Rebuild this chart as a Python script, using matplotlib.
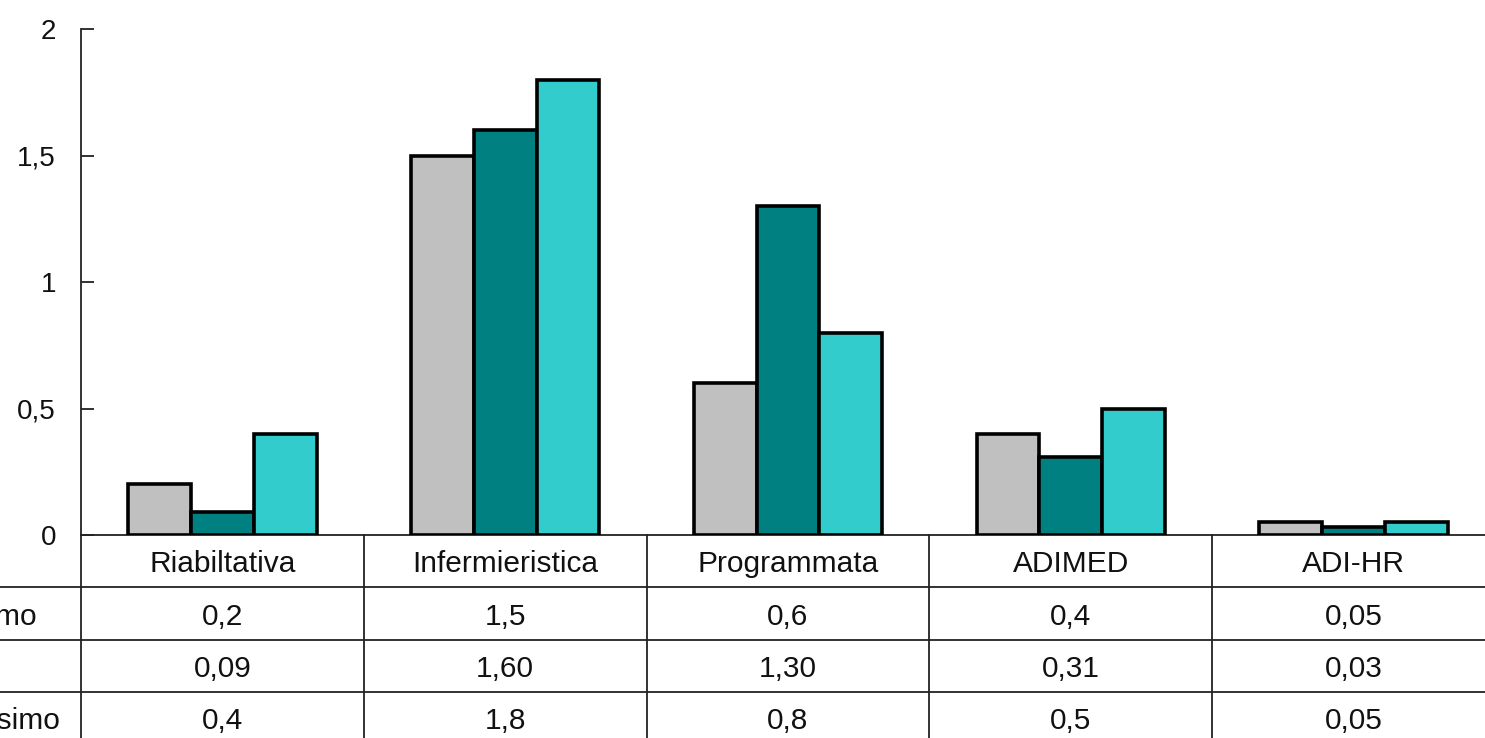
import matplotlib
matplotlib.use("Agg")
import matplotlib.pyplot as plt
import numpy as np

plt.rcParams["font.family"] = ["Liberation Sans", "DejaVu Sans"]

categories = ["Riabiltativa", "Infermieristica", "Programmata", "ADIMED", "ADI-HR"]
row_labels = ["Minimo", "", "Massimo"]
minimo = [0.2, 1.5, 0.6, 0.4, 0.05]
regione = [0.09, 1.60, 1.30, 0.31, 0.03]
massimo = [0.4, 1.8, 0.8, 0.5, 0.05]
# table cells as printed (decimal comma, series' own precision)
minimo_txt = ["0,2", "1,5", "0,6", "0,4", "0,05"]
regione_txt = ["0,09", "1,60", "1,30", "0,31", "0,03"]
massimo_txt = ["0,4", "1,8", "0,8", "0,5", "0,05"]
yticks = [0, 0.5, 1, 1.5, 2]
ytick_labels = ["0", "0,5", "1", "1,5", "2"]

colors = ["#C0C0C0", "#008080", "#33CCCC"]

W, H = 1485, 738
fig = plt.figure(figsize=(W / 100, H / 100), dpi=100)

# plot area: spine at x=81px, runs past the right edge; y from 29px to 535px
left = 81 / W
right = 1495 / W
ax = fig.add_axes([left, (H - 535) / H, right - left, (535 - 29) / H])

x = np.arange(len(categories))
bw = 0.222
for i, (vals, c) in enumerate(zip([minimo, regione, massimo], colors)):
    ax.bar(x + (i - 1) * bw, vals, width=bw, color=c, edgecolor="black",
           linewidth=2.6, zorder=3)

ax.set_xlim(-0.5, len(categories) - 0.5)
ax.set_ylim(0, 2)
ax.set_xticks([])
ax.set_yticks(yticks)
ax.set_yticklabels(ytick_labels, fontsize=20, color="#111111")
ax.tick_params(axis="y", direction="in", length=9, width=1.3, pad=18,
               color="#222222")
for s in ("top", "right"):
    ax.spines[s].set_visible(False)
ax.spines["left"].set_linewidth(1.3)
ax.spines["bottom"].set_linewidth(1.3)
ax.spines["left"].set_color("#222222")
ax.spines["bottom"].set_color("#222222")

# data table under the plot: header row + three value rows
row_h = 52.25
tab = fig.add_axes([left, (H - 535 - 4 * row_h) / H, right - left, 4 * row_h / H])
tab.set_xlim(-0.5, len(categories) - 0.5)
tab.set_ylim(4, 0)
tab.axis("off")

px = 283.3  # pixels per category column
x_far = -0.5 - 90 / px
line_kw = dict(color="#222222", linewidth=1.3, clip_on=False)
for r in (1, 2, 3):
    tab.plot([x_far, len(categories) - 0.5], [r, r], **line_kw)
for k in range(len(categories) + 1):
    tab.plot([k - 0.5, k - 0.5], [0, 4], **line_kw)

fs = 21.5
dy = 0.56
for j, cat in enumerate(categories):
    tab.text(j, dy, cat, ha="center", va="center", fontsize=fs, color="#111111")
for r, row in enumerate([minimo_txt, regione_txt, massimo_txt], start=1):
    for j, s in enumerate(row):
        tab.text(j, r + dy, s, ha="center", va="center", fontsize=fs,
                 color="#111111")

label_x = -0.5 - (81 + 60) / px
for r, lab in enumerate(row_labels, start=1):
    tab.text(label_x, r + dy, lab, ha="left", va="center", fontsize=fs,
             color="#111111", clip_on=False)

fig.savefig("out.png", dpi=100)
